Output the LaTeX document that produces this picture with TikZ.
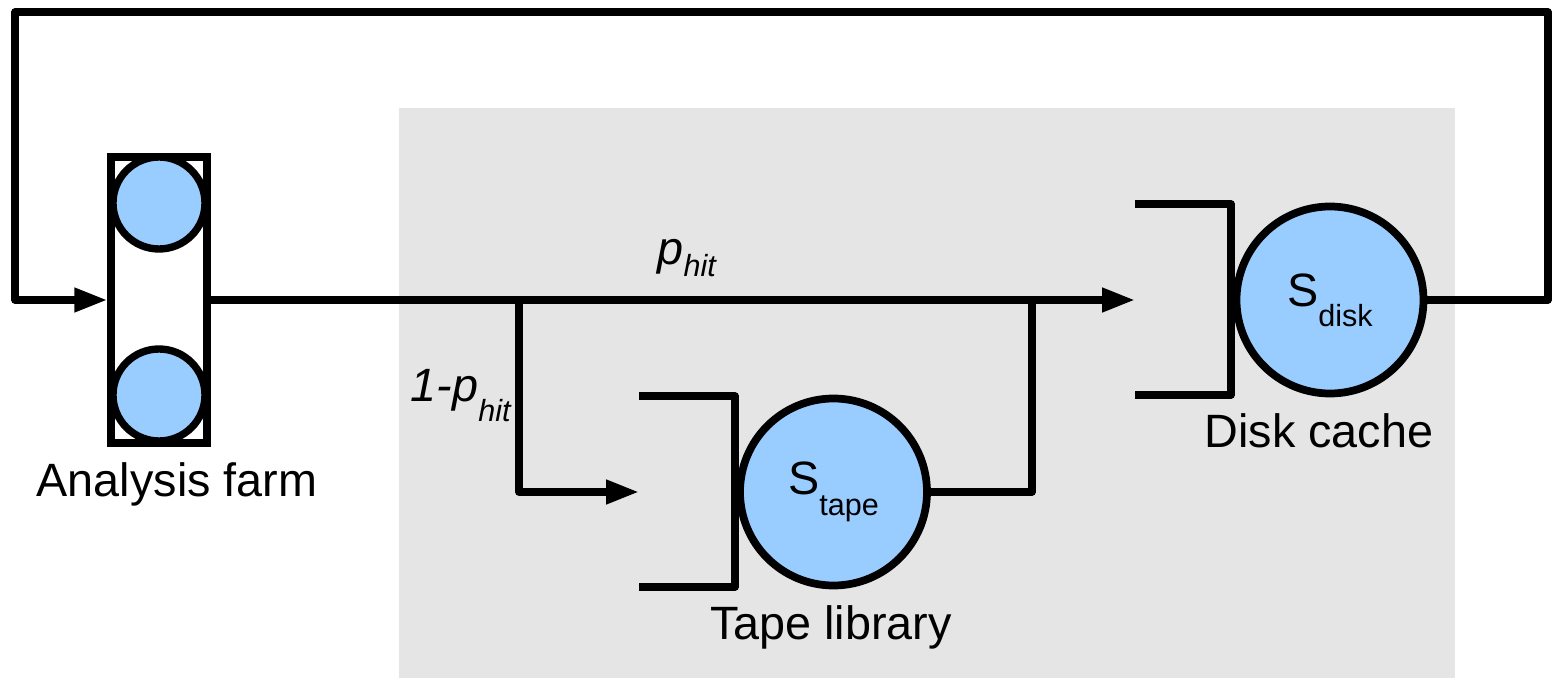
\documentclass[tikz,border=0pt]{standalone}
\usepackage{fontspec}
\setmainfont{Liberation Sans}
\usepackage{xcolor}
\usetikzlibrary{arrows.meta,positioning}
\definecolor{srvblue}{RGB}{153,204,255}
\definecolor{boxgray}{RGB}{229,229,229}
% lowered small index, as in S_tape
\newcommand{\lowsub}[2][0.21cm]{\raisebox{-#1}{\fontsize{8.7}{10}\selectfont #2}}

\begin{document}
\begin{tikzpicture}[x=1cm,y=1cm,font=\fontsize{13.3}{16}\selectfont,
  flow/.style={line width=2.1pt,line join=round},
  tip/.style={-{Triangle[length=0.33cm,width=0.23cm]}},
  server/.style={circle,draw,line width=2.2pt,fill=srvblue,inner sep=0pt,minimum size=1.87cm},
  slot/.style={circle,draw,line width=2.1pt,fill=srvblue,inner sep=0pt,minimum size=0.92cm}]
  \useasboundingbox (0,0) rectangle (15.52,6.78);
  % --- shaded storage region ---
  \fill[boxgray] (3.99,0) rectangle (14.55,5.70);
  % --- analysis farm: box with two servers ---
  \node[draw,line width=2.1pt,minimum width=0.96cm,minimum height=2.86cm,inner sep=0pt]
        (farm) at (1.59,3.78) {};
  \node[slot] (farmA) at (1.59,4.75) {};
  \node[slot] (farmB) at (1.59,2.83) {};
  \node[anchor=base] (farmlbl) at (1.77,1.81) {Analysis farm};
  % --- queues: bracket (waiting room) + server ---
  \foreach \x/\y in {7.35/1.86,12.31/3.78}{
    \draw[flow] (\x-0.96,\y+0.96) -- (\x,\y+0.96) -- (\x,\y-0.95) -- (\x-0.96,\y-0.95);}
  \node[server] (tape) at (8.335,1.86) {S\lowsub{tape}};
  \node[server] (disk) at (13.30,3.78) {S\lowsub[0.20cm]{disk}};
  \node[anchor=base] (tapelbl) at (8.31,0.38) {Tape library};
  \node[anchor=base] (disklbl) at (13.19,2.30) {Disk cache};
  % --- routing points ---
  \coordinate (split)  at (5.19,3.78);
  \coordinate (join)   at (10.32,3.78);
  \coordinate (tapein) at (6.39,1.86);
  \coordinate (diskin) at (11.35,3.78);
  \coordinate (loopR)  at (15.48,6.66);
  \coordinate (loopL)  at (0.15,6.66);
  % --- flows ---
  \draw[flow,tip] (farm.east) -- (diskin);
  \draw[flow,tip] (split) |- (tapein);
  \draw[flow] (tape.east) -| (join);
  \draw[flow,tip] (disk.east) -| (loopR) -- (loopL) |- (farm.west);
  % --- branch probabilities ---
  \node[anchor=base west,inner sep=0pt] (phit) at (6.57,4.13) {\itshape p\lowsub[0.12cm]{hit}};
  \node[anchor=base west,inner sep=0pt] (pmiss) at (4.10,2.76) {\itshape 1-p\lowsub[0.20cm]{hit}};
\end{tikzpicture}
\end{document}
